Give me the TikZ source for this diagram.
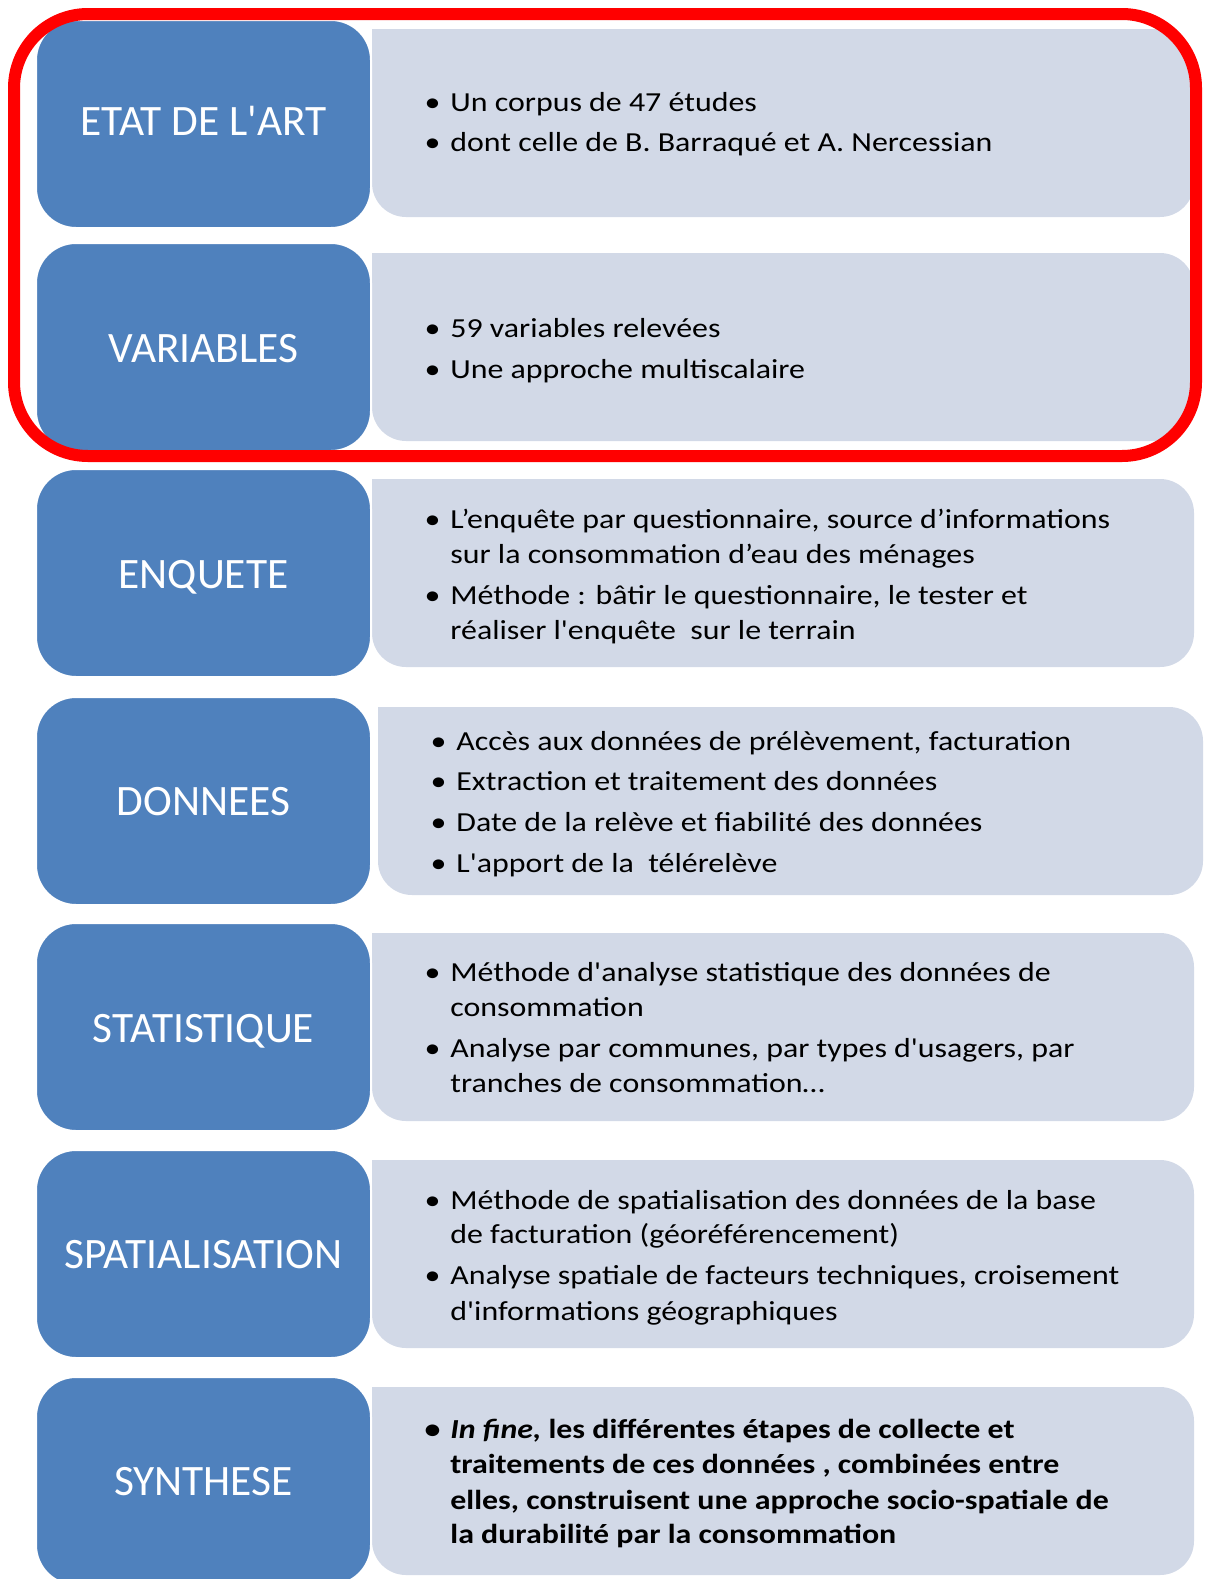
\documentclass[tikz,border=0pt]{standalone}
\usepackage{fontspec}
\setmainfont{Carlito}[Ligatures=TeXOff]
\newfontfamily\bodyfont{Carlito}[FakeStretch=1.16, Ligatures=TeXOff]
\definecolor{blueb}{HTML}{4F81BD}
\definecolor{grayb}{HTML}{D2D9E7}
\definecolor{redl}{HTML}{FF0000}
\begin{document}
\begin{tikzpicture}[x=0.5pt,y=-0.5pt,
  headbox/.style={draw=white, line width=1pt, fill=blueb, rounded corners=20pt,
    minimum width=167.5pt, minimum height=104pt, inner sep=0pt},
  headlabel/.style={anchor=base, inner sep=0pt, text=white, font=\fontsize{21.7}{26}\selectfont},
  graybox/.style={fill=grayb, rounded corners=17pt},
  ln/.style={anchor=base west, inner sep=0pt, font=\bodyfont\fontsize{13.75}{16.5}\selectfont},
  bln/.style={ln, font=\bodyfont\fontsize{13.75}{16.5}\selectfont\bfseries},
  frame/.style={draw=redl, line width=6pt, rounded corners=37pt}
]
\useasboundingbox (0,0) rectangle (1205,1579);
\newcommand{\bul}{\makebox[0pt][r]{\textbullet\hspace{5pt}}}
% gray boxes
\fill[graybox] (372,29) -- (1194,29) -- (1194,217) -- (372,217) [sharp corners] -- cycle;
\fill[graybox] (372,253) -- (1194,253) -- (1194,441) -- (372,441) [sharp corners] -- cycle;
\fill[graybox] (372,479) -- (1194,479) -- (1194,667) -- (372,667) [sharp corners] -- cycle;
\fill[graybox] (378,707) -- (1203,707) -- (1203,895) -- (378,895) [sharp corners] -- cycle;
\fill[graybox] (372,933) -- (1194,933) -- (1194,1121) -- (372,1121) [sharp corners] -- cycle;
\fill[graybox] (372,1160) -- (1194,1160) -- (1194,1348) -- (372,1348) [sharp corners] -- cycle;
\fill[graybox] (372,1387) -- (1194,1387) -- (1194,1575) -- (372,1575) [sharp corners] -- cycle;
% blue boxes
\node[headbox] (h1) at (203.5,124) {};
\node[headbox] (h2) at (203.5,347) {};
\node[headbox] (h3) at (203.5,573) {};
\node[headbox] (h4) at (203.5,801) {};
\node[headbox] (h5) at (203.5,1027) {};
\node[headbox] (h6) at (203.5,1254) {};
\node[headbox] (h7) at (203.5,1481) {};
\node[headlabel] (l1) at (203.5,135) {ETAT DE L'ART};
\node[headlabel] (l2) at (203.5,362) {VARIABLES};
\node[headlabel] (l3) at (203.5,588) {ENQUETE};
\node[headlabel] (l4) at (203.5,815) {DONNEES};
\node[headlabel] (l5) at (203.5,1042) {STATISTIQUE};
\node[headlabel] (l6) at (203.5,1268) {SPATIALISATION};
\node[headlabel] (l7) at (203.5,1495) {SYNTHESE};
% texts
\node[ln] (t1a) at (450,111) {\bul Un corpus de 47 études};
\node[ln] (t1b) at (450,151) {\bul dont celle de B. Barraqué et A. Nercessian};
\node[ln] (t2a) at (450,337) {\bul 59 variables relevées};
\node[ln] (t2b) at (450,378) {\bul Une approche multiscalaire};
\node[ln] (t3a) at (450,528) {\bul L’enquête\ par questionnaire, source d’informations};
\node[ln] (t3b) at (450,563) {sur la consommation d’eau des ménages};
\node[ln] (t3c) at (450,604) {\bul Méthode : bâtir le questionnaire, le tester et};
\node[ln] (t3d) at (450,639) {réaliser l'enquête\ \ sur le terrain};
\node[ln] (t4a) at (456,750) {\bul Accès aux données de prélèvement, facturation};
\node[ln] (t4b) at (456,790) {\bul Extraction et traitement des données};
\node[ln] (t4c) at (456,831) {\bul Date de la relève et fiabilité des données};
\node[ln] (t4d) at (456,872) {\bul L'apport de la\ \ télérelève};
\node[ln] (t5a) at (450,981) {\bul Méthode d'analyse statistique des données de};
\node[ln] (t5b) at (450,1016) {consommation};
\node[ln] (t5c) at (450,1057) {\bul Analyse par communes, par types d'usagers, par};
\node[ln] (t5d) at (450,1092) {tranches de consommation…};
\node[ln] (t6a) at (450,1209) {\bul Méthode de spatialisation des données de la base};
\node[ln] (t6b) at (450,1243) {de facturation (géoréférencement)};
\node[ln] (t6c) at (450,1284) {\bul Analyse spatiale de facteurs techniques, croisement};
\node[ln] (t6d) at (450,1320) {d'informations géographiques};
\node[bln] (t7a) at (450,1438) {\bul \textit{In fine,} les différentes étapes de collecte et};
\node[bln] (t7b) at (450,1473) {traitements de ces données , combinées entre};
\node[bln] (t7c) at (450,1509) {elles, construisent une approche socio-spatiale de};
\node[bln] (t7d) at (450,1543) {la durabilité par la consommation};
% red frame
\draw[frame] (14,14) rectangle (1196,456);
\end{tikzpicture}
\end{document}
